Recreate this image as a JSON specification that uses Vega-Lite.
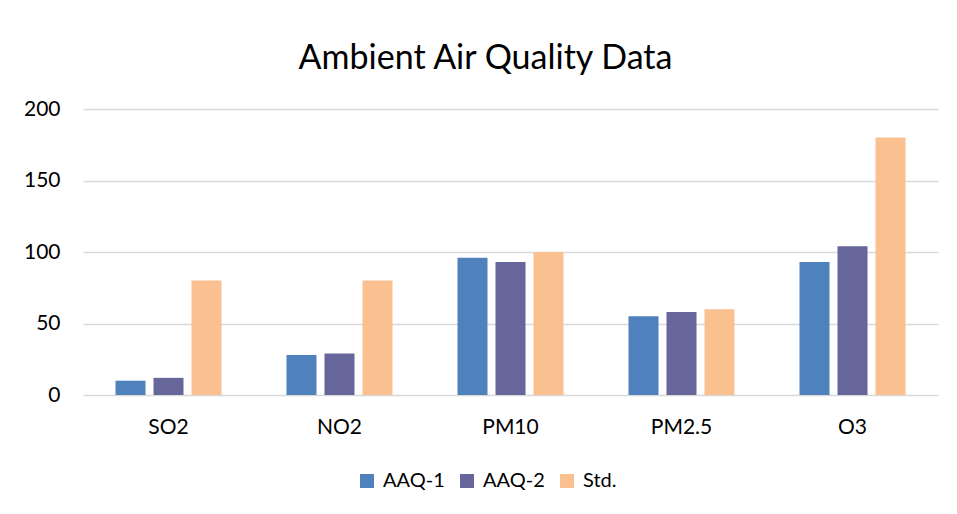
{
  "$schema": "https://vega.github.io/schema/vega-lite/v6.json",
  "width": 855,
  "height": 286,
  "autosize": "none",
  "padding": {"left": 83, "top": 109, "right": 19, "bottom": 119},
  "title": {"text": "Ambient Air Quality Data", "fontSize": 34, "font": "Lato", "fontWeight": "normal", "color": "#000000", "anchor": "middle", "dx": -25, "offset": 22},
  "data": {"values": [
    {"pollutant": "SO2", "series": "AAQ-1", "value": 10},
    {"pollutant": "SO2", "series": "AAQ-2", "value": 12},
    {"pollutant": "SO2", "series": "Std.", "value": 80},
    {"pollutant": "NO2", "series": "AAQ-1", "value": 28},
    {"pollutant": "NO2", "series": "AAQ-2", "value": 29},
    {"pollutant": "NO2", "series": "Std.", "value": 80},
    {"pollutant": "PM10", "series": "AAQ-1", "value": 96},
    {"pollutant": "PM10", "series": "AAQ-2", "value": 93},
    {"pollutant": "PM10", "series": "Std.", "value": 100},
    {"pollutant": "PM2.5", "series": "AAQ-1", "value": 55},
    {"pollutant": "PM2.5", "series": "AAQ-2", "value": 58},
    {"pollutant": "PM2.5", "series": "Std.", "value": 60},
    {"pollutant": "O3", "series": "AAQ-1", "value": 93},
    {"pollutant": "O3", "series": "AAQ-2", "value": 104},
    {"pollutant": "O3", "series": "Std.", "value": 180}
  ]},
  "mark": {"type": "bar"},
  "encoding": {
    "x": {"field": "pollutant", "type": "nominal", "sort": ["SO2", "NO2", "PM10", "PM2.5", "O3"],
      "scale": {"paddingInner": 0.38, "paddingOuter": 0.19},
      "axis": {"title": null, "labelAngle": 0, "labelFontSize": 21, "labelPadding": 21, "ticks": false, "domain": false, "labelColor": "#000000", "grid": false}},
    "xOffset": {"field": "series", "sort": ["AAQ-1", "AAQ-2", "Std."], "scale": {"paddingInner": 0.21, "paddingOuter": 0}},
    "y": {"field": "value", "type": "quantitative", "scale": {"domain": [0, 200], "nice": false},
      "axis": {"values": [0, 50, 100, 150, 200], "title": null, "ticks": false, "domain": false, "labelPadding": 23, "labelFontSize": 21, "labelColor": "#000000", "gridColor": "#D9D9D9", "gridWidth": 1.5}},
    "color": {"field": "series", "type": "nominal", "sort": ["AAQ-1", "AAQ-2", "Std."],
      "scale": {"domain": ["AAQ-1", "AAQ-2", "Std."], "range": ["#4F81BD", "#67669A", "#FAC090"]},
      "legend": {"title": null, "orient": "none", "direction": "horizontal", "legendX": 274, "legendY": 362, "symbolType": "square", "symbolSize": 196, "symbolStrokeWidth": 0, "labelFontSize": 20, "labelColor": "#000000", "columnPadding": 12, "labelOffset": 6}}
  },
  "config": {"font": "Lato", "view": {"stroke": null}}
}
